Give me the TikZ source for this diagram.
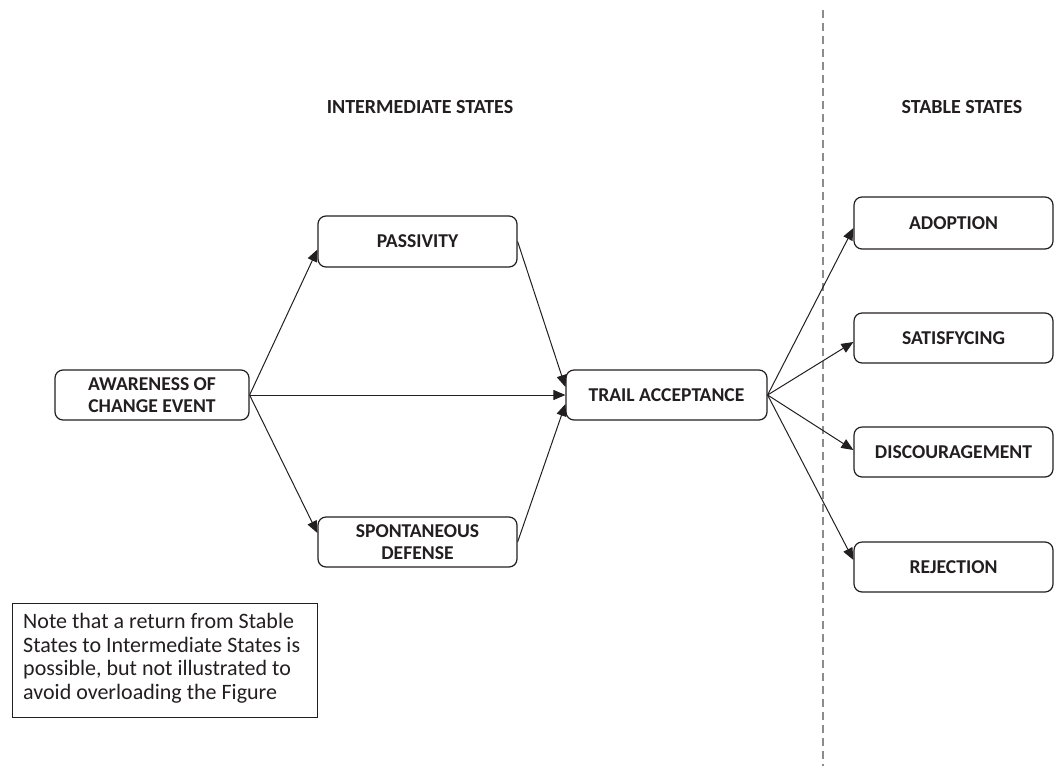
\documentclass[tikz,border=0pt]{standalone}
\usepackage{fontspec}
\setmainfont{Carlito}
\usetikzlibrary{arrows.meta,calc}
\definecolor{ink}{HTML}{231F20}
\definecolor{dashgray}{HTML}{8C8C8C}
\tikzset{
  statebox/.style={draw=ink, line width=1.2pt, rounded corners=8pt, fill=white,
    minimum width=199pt, minimum height=51pt, inner sep=0pt, align=center,
    text=ink, font=\fontsize{19.6}{21.7}\selectfont\bfseries},
  conn/.style={draw=ink, line width=1pt, -{Triangle[length=12pt,width=10pt]}},
  heading/.style={text=ink, font=\fontsize{20}{22}\selectfont\bfseries, inner sep=0pt},
  notebox/.style={draw=ink, line width=1pt, text=ink, align=left, inner sep=0pt,
    anchor=north west},
  notetextstyle/.style={anchor=north west, inner sep=0pt, align=left, text=ink,
    font=\fontsize{22}{23.6}\selectfont}
}
\begin{document}
\begin{tikzpicture}[x=1pt,y=-1pt]
\useasboundingbox (0,0) rectangle (1057,769);
% divider
\coordinate (dtop) at (823,10);
\coordinate (dbot) at (823,766);
\draw[dashgray, line width=2pt, dash pattern=on 8pt off 5pt] (dtop) -- (dbot);
% headings
\node[heading] (hint) at (420,107) {INTERMEDIATE STATES};
\node[heading] (hsta) at (962,107) {STABLE STATES};
% boxes
\node[statebox, minimum width=194pt, minimum height=50pt] (aw) at (152,395) {AWARENESS OF\\CHANGE EVENT};
\node[statebox] (pa) at (417.5,241.5) {PASSIVITY};
\node[statebox, minimum height=50pt] (sd) at (417.5,542) {SPONTANEOUS\\DEFENSE};
\node[statebox, minimum width=201pt, minimum height=50pt] (ta) at (666.5,395) {TRAIL ACCEPTANCE};
\node[statebox, minimum height=52pt] (ad) at (953.5,223) {ADOPTION};
\node[statebox, minimum height=50pt] (sa) at (953.5,338) {SATISFYCING};
\node[statebox, minimum height=50pt] (di) at (953.5,452) {DISCOURAGEMENT};
\node[statebox, minimum height=50pt] (re) at (953.5,567) {REJECTION};
% connectors
\draw[conn] (aw.east) -- ($(pa.west)+(0,8)$);
\draw[conn] (aw.east) -- ($(sd.west)+(0,-9)$);
\draw[conn] (aw.east) -- (ta.west);
\draw[conn] (pa.east) -- ($(ta.west)+(0,-8)$);
\draw[conn] (sd.east) -- ($(ta.west)+(0,9)$);
\draw[conn] (ta.east) -- ($(ad.west)+(0,5)$);
\draw[conn] (ta.east) -- ($(sa.west)+(0,4)$);
\draw[conn] (ta.east) -- ($(di.west)+(0,-2)$);
\draw[conn] (ta.east) -- ($(re.west)+(0,-7)$);
% note
\node[notebox, minimum width=305pt, minimum height=114pt] (note) at (12,603) {};
\node[notetextstyle] (notetext) at ([xshift=11pt,yshift=-10pt]note.north west)
  {Note that a return from Stable\\States to Intermediate States is\\possible, but not illustrated to\\avoid overloading the Figure};
\end{tikzpicture}
\end{document}
